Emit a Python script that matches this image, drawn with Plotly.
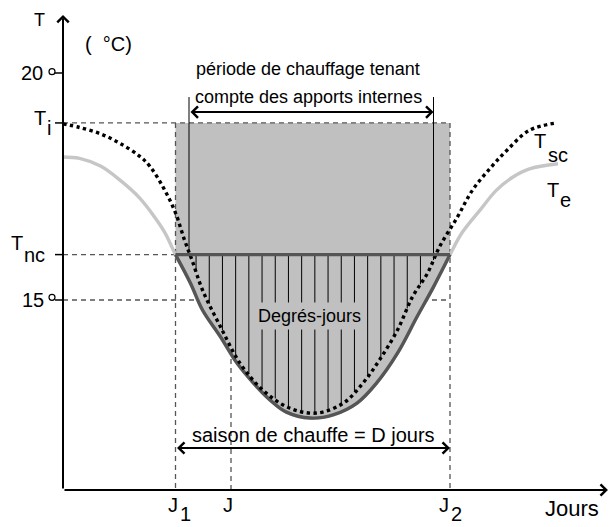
import numpy as np
import plotly.graph_objects as go

# ---------------- data ----------------
days_te = [0, 11, 25, 38, 51, 61, 68, 75, 85, 93, 105, 116, 127, 138, 149, 165,
           180, 196, 209, 223, 236, 247, 258, 266, 278, 289, 300, 311, 330]
te = [18.15, 18.12, 17.95, 17.64, 17.25, 16.83, 16.48, 16.0, 15.37, 14.78, 14.19,
      13.61, 13.17, 12.80, 12.53, 12.40, 12.47, 12.73, 13.17, 13.83, 14.63, 15.29,
      16.0, 16.48, 16.98, 17.42, 17.71, 17.89, 18.0]

days_tsc = [0, 11, 25, 38, 51, 58, 67, 75, 81, 86, 93, 105, 118, 133, 151, 169,
            187, 200, 211, 223, 233, 243, 251, 263, 273, 285, 296, 311, 329]
tsc = [18.88, 18.80, 18.66, 18.45, 18.17, 17.94, 17.47, 16.92, 16.32, 15.88, 15.22,
       14.41, 13.61, 13.02, 12.62, 12.51, 12.73, 13.17, 13.68, 14.34, 15.07, 15.59,
       16.17, 16.83, 17.42, 17.91, 18.30, 18.74, 18.90]

T_i = 18.9
T_nc = 16.0
tick_temps = [15, 20]
J1, J, J2 = 75, 112, 258
J1_int, J2_int = 84, 247          # heating period accounting for internal gains
hatch_days = [88.7, 97.5, 106.3, 115.1, 123.9, 132.7, 141.5, 150.3, 159.1, 167.9,
              176.7, 185.5, 194.3, 203.1, 211.9, 220.7, 229.5, 238.3]

# layout constants (data units)
X_MIN, X_MAX = -42, 364.67
Y_MIN, Y_MAX = 10.0, 21.608
T_AX = 10.815      # level of the time axis
T_TOP = 21.28      # tip of the temperature axis
X_TIP = 363.3      # tip of the time axis
T_ARROW_INT = 19.14
T_INT_TOP = 19.47
T_ARROW_SEASON = 11.74

FONT = "Liberation Sans, Arial, Helvetica, sans-serif"
GRAY_FILL = "#c0c0c0"
LIGHT = "#c6c6c6"
DARK = "#555555"
DASH_C = "#555555"

fig = go.Figure()

# light Te curve (full year)
fig.add_trace(go.Scatter(x=days_te, y=te, mode="lines",
                         line=dict(color=LIGHT, width=3.4, shape="spline"),
                         hoverinfo="skip"))

# degree-days area: Tnc baseline then Te segment filled up to it
seg = [i for i, d in enumerate(days_te) if J1 <= d <= J2]
seg_x = [days_te[i] for i in seg]
seg_y = [te[i] for i in seg]
fig.add_trace(go.Scatter(x=[J1, J2], y=[T_nc, T_nc], mode="lines",
                         line=dict(width=0, color=GRAY_FILL), hoverinfo="skip"))
fig.add_trace(go.Scatter(x=seg_x, y=seg_y, mode="lines", fill="tonexty",
                         fillcolor=GRAY_FILL,
                         line=dict(color=DARK, width=3.4, shape="spline"),
                         hoverinfo="skip"))

# hatch lines, from Tnc down to Tsc
hx, hy = [], []
for d in hatch_days:
    hx += [d, d, None]
    hy += [T_nc, float(np.interp(d, days_tsc, tsc)), None]
for d in (J1_int, J2_int):
    hx += [d, d, None]
    hy += [T_INT_TOP, float(np.interp(d, days_tsc, tsc)), None]
fig.add_trace(go.Scatter(x=hx, y=hy, mode="lines",
                         line=dict(color="black", width=1), hoverinfo="skip"))

# Tsc dotted curve
fig.add_trace(go.Scatter(x=days_tsc, y=tsc, mode="lines",
                         line=dict(color="black", width=3.4, dash="dot",
                                   shape="spline"),
                         hoverinfo="skip"))

# Tnc dark line
fig.add_trace(go.Scatter(x=[J1, J2], y=[T_nc, T_nc], mode="lines",
                         line=dict(color=DARK, width=3.4), hoverinfo="skip"))

# ---------------- shapes ----------------
shapes = []
shapes.append(dict(type="rect", xref="x", yref="y", x0=J1, x1=J2, y0=T_nc, y1=T_i,
                   fillcolor=GRAY_FILL, line=dict(width=0), layer="below"))


def dline(x0, y0, x1, y1):
    return dict(type="line", xref="x", yref="y", x0=x0, y0=y0, x1=x1, y1=y1,
                line=dict(color=DASH_C, width=1.3, dash="5px,4px"), layer="below")


shapes += [
    dline(0, T_i, J2, T_i),
    dline(0, T_nc, J1, T_nc),
    dline(0, 15, J2, 15),
    dline(J1, T_i, J1, T_AX),
    dline(J2, T_i, J2, T_AX),
    dline(J, T_AX, J, T_nc),
]
# ticks on the temperature axis
for t in tick_temps + [T_i, T_nc]:
    shapes.append(dict(type="line", xref="x", yref="y", xsizemode="pixel",
                       xanchor=0, x0=-8, x1=0, y0=t, y1=t,
                       line=dict(color="black", width=1.5)))
# small degree circles next to 20 and 15
for t, dy in zip(tick_temps, [2.7, 1.3]):
    shapes.append(dict(type="circle", xref="x", yref="y", xsizemode="pixel",
                       ysizemode="pixel", xanchor=0, yanchor=t,
                       x0=-14, x1=-8, y0=dy - 3, y1=dy + 3,
                       line=dict(color="black", width=1.2)))

# ---------------- annotations ----------------
ann = []


def arrow(x, y, ax, ay, both=False):
    return dict(x=x, y=y, ax=ax, ay=ay, xref="x", yref="y", axref="x", ayref="y",
                text="", showarrow=True, arrowhead=4, arrowsize=1.1,
                startarrowhead=4, startarrowsize=1.1, arrowwidth=2,
                arrowcolor="black", arrowside="end+start" if both else "end")


ann.append(arrow(0, T_TOP, 0, T_AX))
ann.append(arrow(X_TIP, T_AX, 0, T_AX))
ann.append(arrow(J2_int, T_ARROW_INT, J1_int, T_ARROW_INT, both=True))
ann.append(arrow(J2, T_ARROW_SEASON, J1, T_ARROW_SEASON, both=True))


def label(text, x, y, dx, dy, size=20, bg=None, pad=1):
    d = dict(text=text, x=x, y=y, xref="x", yref="y", xshift=dx, yshift=dy,
             showarrow=False, xanchor="center", yanchor="middle",
             font=dict(family=FONT, size=size, color="black"), borderpad=pad)
    if bg:
        d["bgcolor"] = bg
    return d


mid_int = (J1_int + J2_int) / 2
mid_season = (J1 + J2) / 2
ann += [
    label("T", 0, T_TOP, -24, -5, size=18),
    label("(  °C)", 0, T_TOP, 45, -28.7),
    label("20", 0, 20, -31, 0),
    label("15", 0, 15, -30.5, 0),
    label("T", 0, T_i, -23.5, 4.9),
    label("i", 0, T_i, -14, -5.1),
    label("T", 0, T_nc, -46, 11.6),
    label("nc", 0, T_nc, -29, -0.4),
    label("T", days_tsc[-1], tsc[-1], -16.5, -17.8),
    label("sc", days_tsc[-1], tsc[-1], 1.5, -31.8),
    label("T", days_te[-1], te[-1], -5, -26.2),
    label("e", days_te[-1], te[-1], 7, -36.2),
    label("J", J1, T_AX, -3, -15.3),
    label("1", J1, T_AX, 9.5, -24.3),
    label("J", J, T_AX, -3.5, -15.3),
    label("J", J2, T_AX, -6, -15.3),
    label("2", J2, T_AX, 6.5, -24.3),
    label("Jours", X_TIP, T_AX, -35.5, -18.6, size=22),
    label("période de chauffage tenant", mid_int, T_i, -3, 54.2, size=18),
    label("compte des apports internes", mid_int, T_i, -3, 25.9, size=18),
    label("Degrés-jours", mid_season, 15, -3, -16, size=18, bg=GRAY_FILL, pad=3),
    label("saison de chauffe = D jours", mid_season, T_ARROW_SEASON, 0.5, 13.3),
]

fig.update_layout(
    width=610, height=527,
    margin=dict(l=0, r=0, t=0, b=0),
    paper_bgcolor="white", plot_bgcolor="white",
    showlegend=False,
    xaxis=dict(range=[X_MIN, X_MAX], visible=False, fixedrange=True),
    yaxis=dict(range=[Y_MIN, Y_MAX], visible=False, fixedrange=True),
    shapes=shapes, annotations=ann,
)

fig.write_html("out.html")
